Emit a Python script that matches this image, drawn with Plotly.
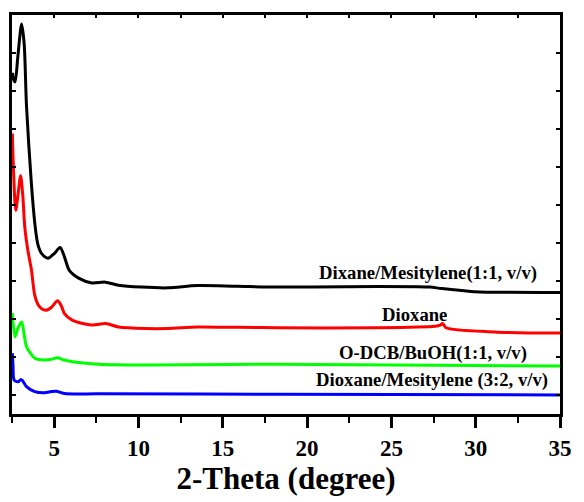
import plotly.graph_objects as go

# 2-Theta positions (degree) and offset intensities (a.u.) for each solvent system
theta_dm11 = [2.53, 2.58, 2.68, 2.85, 3.07, 3.22, 3.36, 3.65, 3.88, 4.04, 4.26, 4.63,
              5.02, 5.35, 5.60, 5.90, 6.48, 7.24, 8.04, 8.82, 10.17, 11.75, 13.5, 15.85,
              18.2, 22.3, 26.6, 27.3, 28.0, 29.9, 35.0]
int_dm11 = [8.48, 8.32, 8.24, 8.92, 9.76, 9.25, 7.61, 5.56, 4.41, 3.95, 3.72, 3.60,
            3.73, 3.88, 3.65, 3.28, 3.07, 2.95, 2.97, 2.89, 2.84, 2.82, 2.88, 2.86,
            2.84, 2.85, 2.85, 2.84, 2.80, 2.72, 2.70]

theta_diox = [2.52, 2.59, 2.72, 2.85, 3.01, 3.14, 3.26, 3.44, 3.65, 3.85, 4.04, 4.26,
              4.53, 4.84, 5.21, 5.43, 5.60, 6.07, 7.24, 8.06, 8.82, 10.4, 11.75, 13.5,
              15.85, 18.2, 24.0, 27.6, 27.9, 28.04, 28.24, 31.1, 35.0]
int_diox = [6.88, 5.91, 4.86, 5.25, 5.77, 5.25, 4.41, 3.81, 3.30, 2.62, 2.38, 2.27,
            2.23, 2.31, 2.48, 2.34, 2.15, 1.97, 1.84, 1.88, 1.79, 1.75, 1.75, 1.79,
            1.78, 1.77, 1.77, 1.81, 1.84, 1.88, 1.77, 1.66, 1.63]

theta_odcb = [2.52, 2.68, 2.85, 3.07, 3.20, 3.36, 3.55, 3.85, 4.43, 4.84, 5.21, 5.60,
              6.19, 7.65, 10.6, 18.2, 35.0]
int_odcb = [2.16, 1.53, 1.76, 1.92, 1.65, 1.27, 1.13, 0.97, 0.92, 0.94, 0.98, 0.92,
            0.87, 0.81, 0.79, 0.81, 0.76]

theta_dm32 = [2.52, 2.56, 2.63, 2.87, 3.03, 3.14, 3.36, 3.85, 4.43, 4.84, 5.12, 5.60,
              7.65, 18.2, 35.0]
int_dm32 = [1.10, 0.79, 0.39, 0.35, 0.41, 0.37, 0.22, 0.09, 0.06, 0.09, 0.10, 0.04,
            0.03, 0.02, 0.00]

series = [
    (theta_dm11, int_dm11, "#000000"),
    (theta_diox, int_diox, "#ff0000"),
    (theta_odcb, int_odcb, "#00ff00"),
    (theta_dm32, int_dm32, "#0000ff"),
]

# curve labels: text, 2-Theta centre, intensity centre
label_text = ["Dixane/Mesitylene(1:1, v/v)", "Dioxane",
              "O-DCB/BuOH(1:1, v/v)", "Dioxane/Mesitylene (3:2, v/v)"]
label_x = [27.2, 26.4, 27.45, 27.4]
label_y = [3.20, 2.13, 1.10, 0.39]

FONT = "Liberation Serif"

fig = go.Figure()
for xs, ys, col in series:
    fig.add_trace(go.Scatter(
        x=xs, y=ys, mode="lines",
        line=dict(color=col, width=3, shape="spline", smoothing=0.8),
        showlegend=False, hoverinfo="skip",
    ))

for t, lx, ly in zip(label_text, label_x, label_y):
    fig.add_annotation(x=lx, y=ly, text=f"<b>{t}</b>", showarrow=False,
                       font=dict(family=FONT, size=18.7, color="black"),
                       xanchor="center", yanchor="middle")

fig.update_layout(
    width=584, height=502,
    margin=dict(l=12, r=17, t=14, b=88),
    paper_bgcolor="white", plot_bgcolor="white",
    font=dict(family=FONT, color="black"),
    xaxis=dict(
        range=[2.5, 35], tick0=0, dtick=5,
        showgrid=False, zeroline=False,
        showline=True, linecolor="black", linewidth=3, mirror=True,
        ticks="outside", ticklen=11, tickwidth=3, tickcolor="black",
        minor=dict(ticks="outside", ticklen=6, tickwidth=2, dtick=2.5, tick0=0,
                   tickcolor="black", showgrid=False),
        tickfont=dict(family=FONT, size=23, color="black"),
        tickprefix="<b>", ticksuffix="</b>",
        title=dict(text="<b>2-Theta (degree)</b>", standoff=8,
                   font=dict(family=FONT, size=31, color="black")),
    ),
    xaxis2=dict(
        overlaying="x", side="top", range=[2.5, 35], tick0=0, dtick=2.5,
        showgrid=False, zeroline=False, showticklabels=False,
        ticks="inside", ticklen=3, tickwidth=2, tickcolor="black",
    ),
    yaxis=dict(
        range=[-0.5, 10], tick0=0, dtick=1,
        showgrid=False, zeroline=False, showticklabels=False,
        showline=True, linecolor="black", linewidth=3, mirror="ticks",
        ticks="inside", ticklen=4, tickwidth=2, tickcolor="black",
    ),
)
# invisible trace so the top tick axis is drawn
fig.add_trace(go.Scatter(x=[2.5], y=[-1], xaxis="x2", mode="markers",
                         marker=dict(opacity=0), showlegend=False, hoverinfo="skip"))

fig.write_html("out.html")
